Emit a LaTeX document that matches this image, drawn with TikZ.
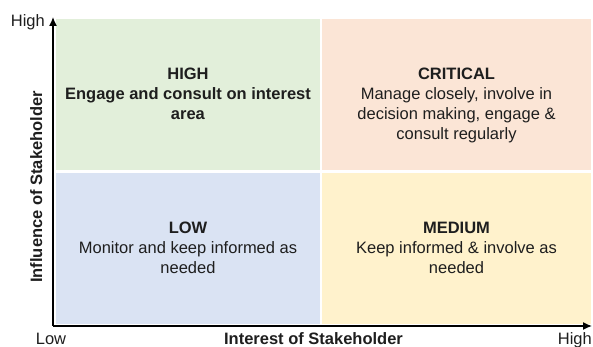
\documentclass[tikz,border=0pt]{standalone}
\usepackage{fontspec}
\setmainfont{Liberation Sans}
\usetikzlibrary{arrows.meta,positioning}
\definecolor{quadgreen}{HTML}{E2EFDA}
\definecolor{quadorange}{HTML}{FBE5D6}
\definecolor{quadblue}{HTML}{DAE3F3}
\definecolor{quadyellow}{HTML}{FFF2CC}
\definecolor{inktext}{HTML}{1E1E1E}
\tikzset{
  quad/.style={rectangle, inner sep=0pt, minimum height=151pt},
  quadtext/.style={inner sep=0pt, align=center, text=inktext,
    font=\fontsize{16.5}{20}\selectfont},
  axislabel/.style={inner sep=0pt, anchor=base, text=inktext,
    font=\fontsize{16.5}{20}\selectfont},
  axis/.style={line width=1.4pt, -{Latex[length=9pt,width=8pt]}}
}
\begin{document}
\begin{tikzpicture}[x=1pt,y=1pt]
\useasboundingbox (0,0) rectangle (593,347);
\coordinate (origin) at (53,21);
\coordinate (ytip) at (53,330);
\coordinate (xtip) at (592,21);
% Draw quadrants
\node[quad, minimum width=264pt, fill=quadgreen] (high) at (188,252.5) {};
\node[quad, minimum width=269pt, fill=quadorange] (critical) at (456.5,252.5) {};
\node[quad, minimum width=264pt, fill=quadblue] (low) at (188,98.5) {};
\node[quad, minimum width=269pt, fill=quadyellow] (medium) at (456.5,98.5) {};
% Quadrant texts
\node[quadtext, below=49pt of high.north] (hightext)
  {\textbf{HIGH}\\ \textbf{Engage and consult on interest}\\ \textbf{area}};
\node[quadtext, below=49pt of critical.north] (criticaltext)
  {\textbf{CRITICAL}\\ Manage closely, involve in\\ decision making, engage \&\\ consult regularly};
\node[quadtext, below=49pt of low.north] (lowtext)
  {\textbf{LOW}\\ Monitor and keep informed as\\ needed};
\node[quadtext, below=49pt of medium.north] (mediumtext)
  {\textbf{MEDIUM}\\ Keep informed \& involve as\\ needed};
% Draw axes
\draw[axis] (origin) -- (ytip);
\draw[axis] (origin) -- (xtip);
% Axis labels
\node[axislabel, anchor=base east] (yhigh) at (45,320) {High};
\node[axislabel] (xlow) at (51,2) {Low};
\node[axislabel, anchor=base east] (xhigh) at (592,2) {High};
\node[axislabel] (xtitle) at (313.5,2) {\textbf{Interest of Stakeholder}};
\node[axislabel, rotate=90] (ytitle) at (42,160) {\textbf{Influence of Stakeholder}};
\end{tikzpicture}
\end{document}
